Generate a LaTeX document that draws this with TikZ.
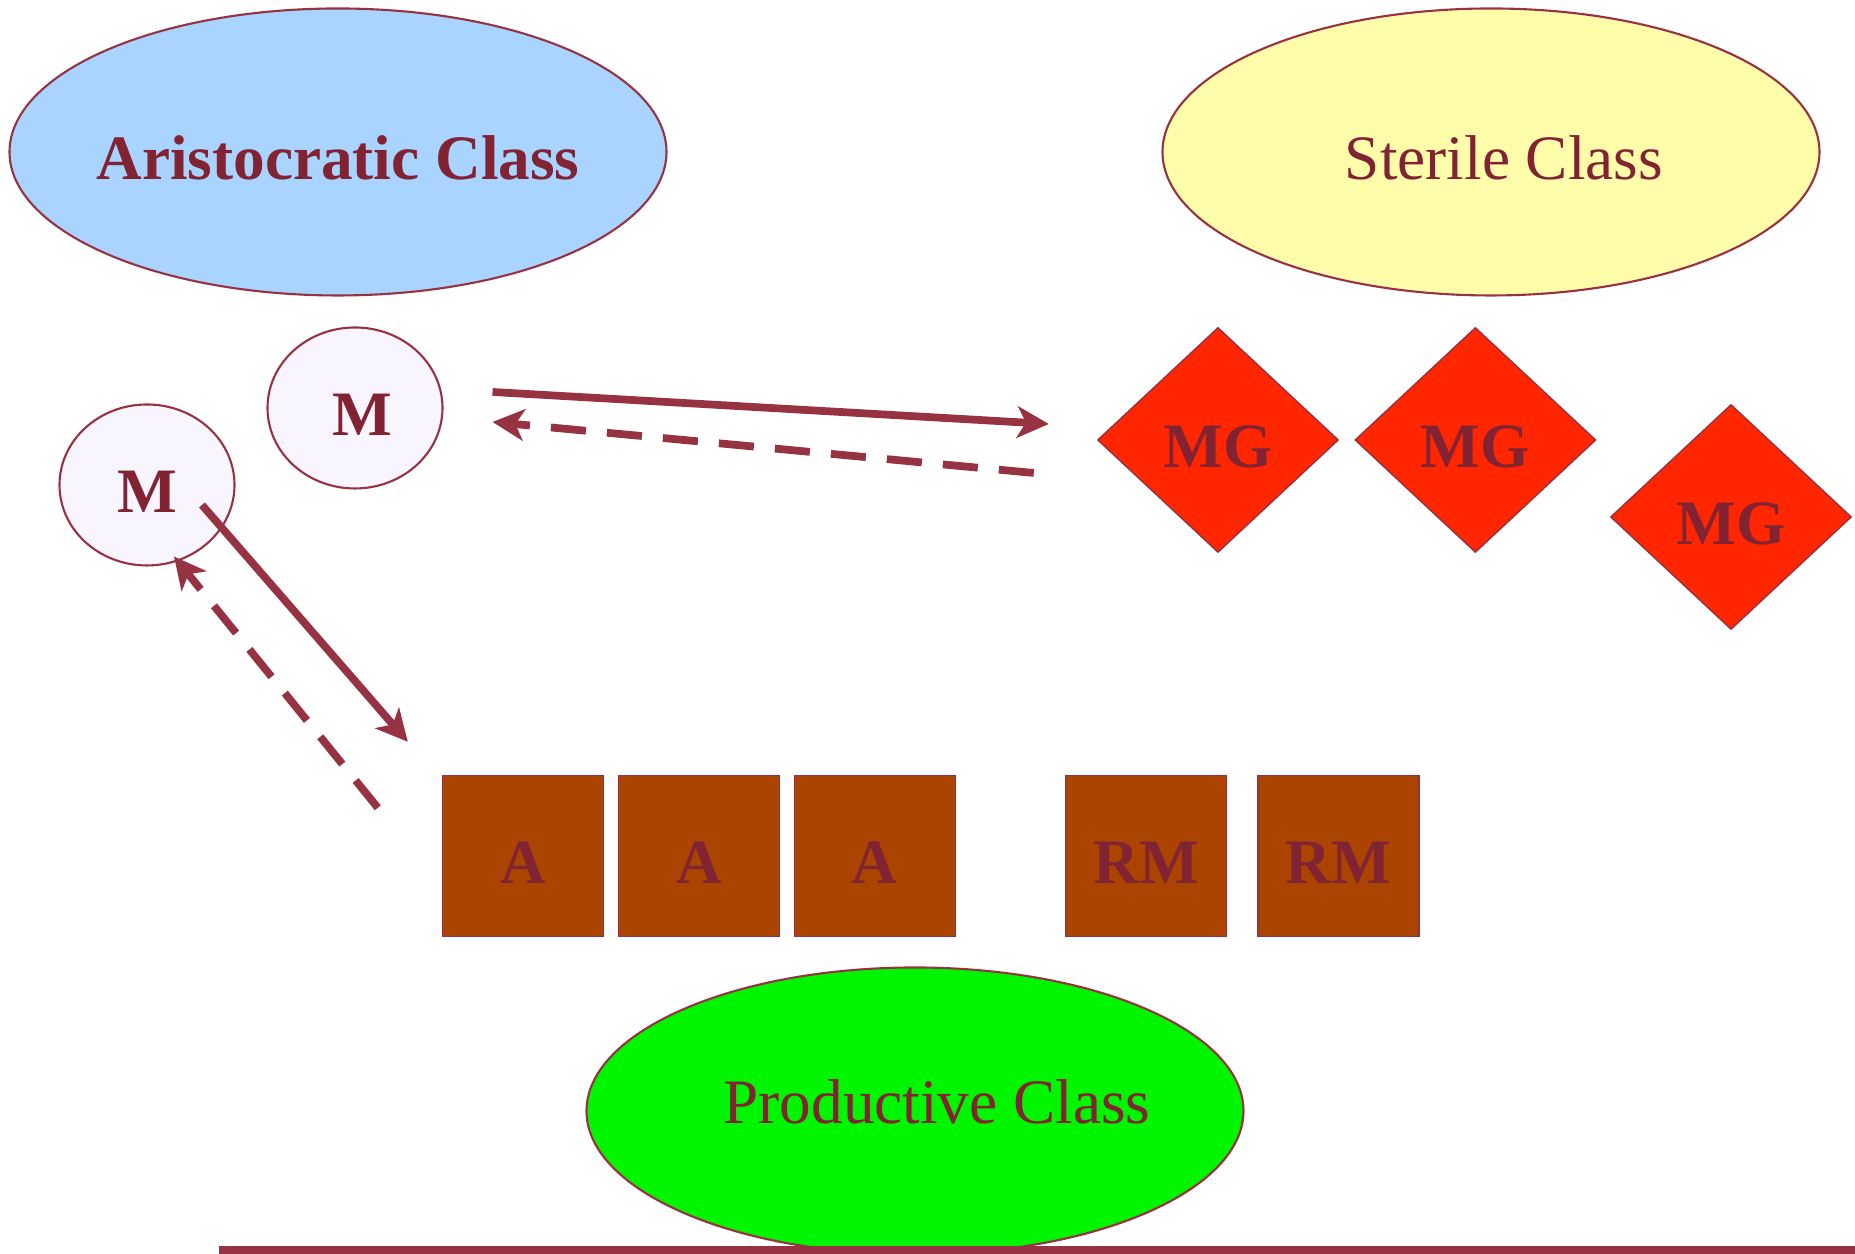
\documentclass[tikz,border=0pt]{standalone}
\usepackage{fontspec}
\setmainfont{Liberation Serif}
\usetikzlibrary{shapes.geometric,positioning,arrows.meta}

\definecolor{wine}{RGB}{150,50,65}
\definecolor{winetext}{RGB}{130,35,52}
\definecolor{skyfill}{RGB}{168,212,255}
\definecolor{creamfill}{RGB}{255,252,170}
\definecolor{leaffill}{RGB}{0,245,0}
\definecolor{lilacfill}{RGB}{249,245,255}
\definecolor{flamefill}{RGB}{255,38,0}
\definecolor{rustfill}{RGB}{170,68,0}

\begin{document}
\begin{tikzpicture}[
		every node/.style={font=\fontsize{18pt}{22pt}\selectfont, text=winetext, text height=15.5pt, text depth=0pt},
		classbox/.style={ellipse, draw=wine, line width=0.6pt, inner xsep=-1cm, minimum width=6.57cm, minimum height=2.87cm},
		moneybox/.style={ellipse, draw=wine, line width=0.6pt, fill=lilacfill, minimum width=1.75cm, minimum height=1.61cm, font=\fontsize{18pt}{22pt}\selectfont\bfseries},
		goodsbox/.style={diamond, draw=wine, line width=0.4pt, fill=flamefill, minimum width=2.41cm, minimum height=2.25cm, inner sep=0pt, font=\fontsize{18pt}{22pt}\selectfont\bfseries},
		farmbox/.style={rectangle, draw=wine, line width=0.4pt, fill=rustfill, minimum size=1.61cm, inner sep=0pt, font=\fontsize{18pt}{22pt}\selectfont\bfseries},
		flow/.style={draw=wine, line width=2.2pt, -{Stealth[length=9pt,width=9pt,inset=2.5pt]}},
		backflow/.style={flow, dash pattern=on 10pt off 6pt},
		groundline/.style={draw=wine, line width=2.2pt}
	]
		\useasboundingbox (0,0) rectangle (18.55,12.54);
		
		% the three classes
		\node[classbox, fill=skyfill, font=\fontsize{18pt}{22pt}\selectfont\bfseries] (aris) at (3.38,11.02) {Aristocratic Class};
		\node[classbox, fill=creamfill] (sterile) at (14.91,11.02) {\hspace{0.26cm}Sterile Class};
		\node[classbox, fill=leaffill, text height=7.4pt] (prod) at (9.15,1.43) {\hspace{0.44cm}Productive Class};
		
		% money
		\node[moneybox] (m1) at (3.55,8.46) {\hspace{0.14cm}M};
		\node[moneybox] (m2) at (1.47,7.69) {M};
		
		% manufactured goods
		\node[goodsbox] (mg1) at (12.18,8.14) {MG};
		\node[goodsbox, right=0.15cm of mg1] (mg2) {MG};
		\node[goodsbox] (mg3) at (17.31,7.37) {MG};
		
		% agricultural produce and raw materials
		\node[farmbox] (a1) at (5.23,3.98) {A};
		\node[farmbox, right=0.135cm of a1] (a2) {A};
		\node[farmbox, right=0.135cm of a2] (a3) {A};
		\node[farmbox, right=1.09cm of a3] (rm1) {RM};
		\node[farmbox, right=0.30cm of rm1] (rm2) {RM};
		
		% flows
		\draw[flow] ([shift={(0.49,0.16)}]m1.east) -- ([shift={(-0.48,0.16)}]mg1.west);
		\draw[backflow] ([shift={(-0.63,-0.33)}]mg1.west) -- ([shift={(0.49,-0.14)}]m1.east);
		\draw[flow] ([shift={(0.55,-0.20)}]m2.center) -- ([shift={(-0.34,0.33)}]a1.north west);
		\draw[backflow] ([shift={(-0.64,-0.33)}]a1.north west) -- ([shift={(0.27,0.10)}]m2.south);
		
		\draw[groundline] (2.19,0.04) -- (18.55,0.04);
		
	\end{tikzpicture}
\end{document}
